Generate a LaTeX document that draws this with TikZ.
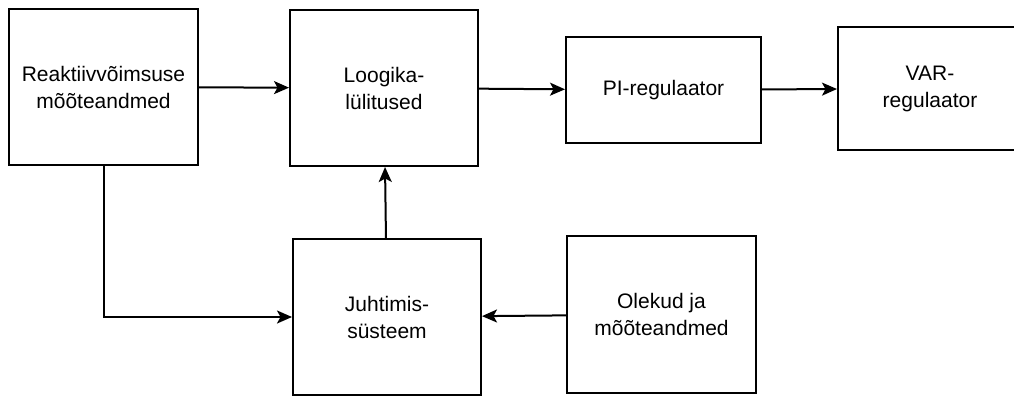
\documentclass[tikz,border=0pt]{standalone}
\usepackage{fontspec}
\setsansfont{Liberation Sans}
\usetikzlibrary{arrows.meta}

\begin{document}
\begin{tikzpicture}[x=1pt, y=-1pt, line width=2pt, >={Stealth[length=15pt,width=13pt,inset=3.5pt]},
    main node/.style={rectangle,draw,inner sep=0pt,align=center,font=\sffamily\fontsize{21}{27}\selectfont}]

      \clip (0,0) rectangle (1014,396);

      \node[main node, minimum width=189pt, minimum height=156pt] (1) at (103.5,87) {Reaktiivvõimsuse\\mõõteandmed};
      \node[main node, minimum width=188pt, minimum height=156pt] (2) at (384,88) {Loogika-\\lülitused};
      \node[main node, minimum width=195pt, minimum height=106pt] (3) at (663.5,90) {PI-regulaator};
      \node[main node, minimum width=184pt, minimum height=123pt] (4) at (930,88.5) {VAR-\\regulaator};
      \node[main node, minimum width=188pt, minimum height=156pt] (5) at (387,317) {Juhtimis-\\süsteem};
      \node[main node, minimum width=189pt, minimum height=157pt] (6) at (661.5,314.5) {Olekud ja\\mõõteandmed};

      \path[->]
        (1) edge (2)
        (2) edge (3)
        (3) edge (4)
        (5) edge (2)
        (6) edge (5);

      \draw[->] (1.south) |- (5.west);

    \end{tikzpicture}
\end{document}
